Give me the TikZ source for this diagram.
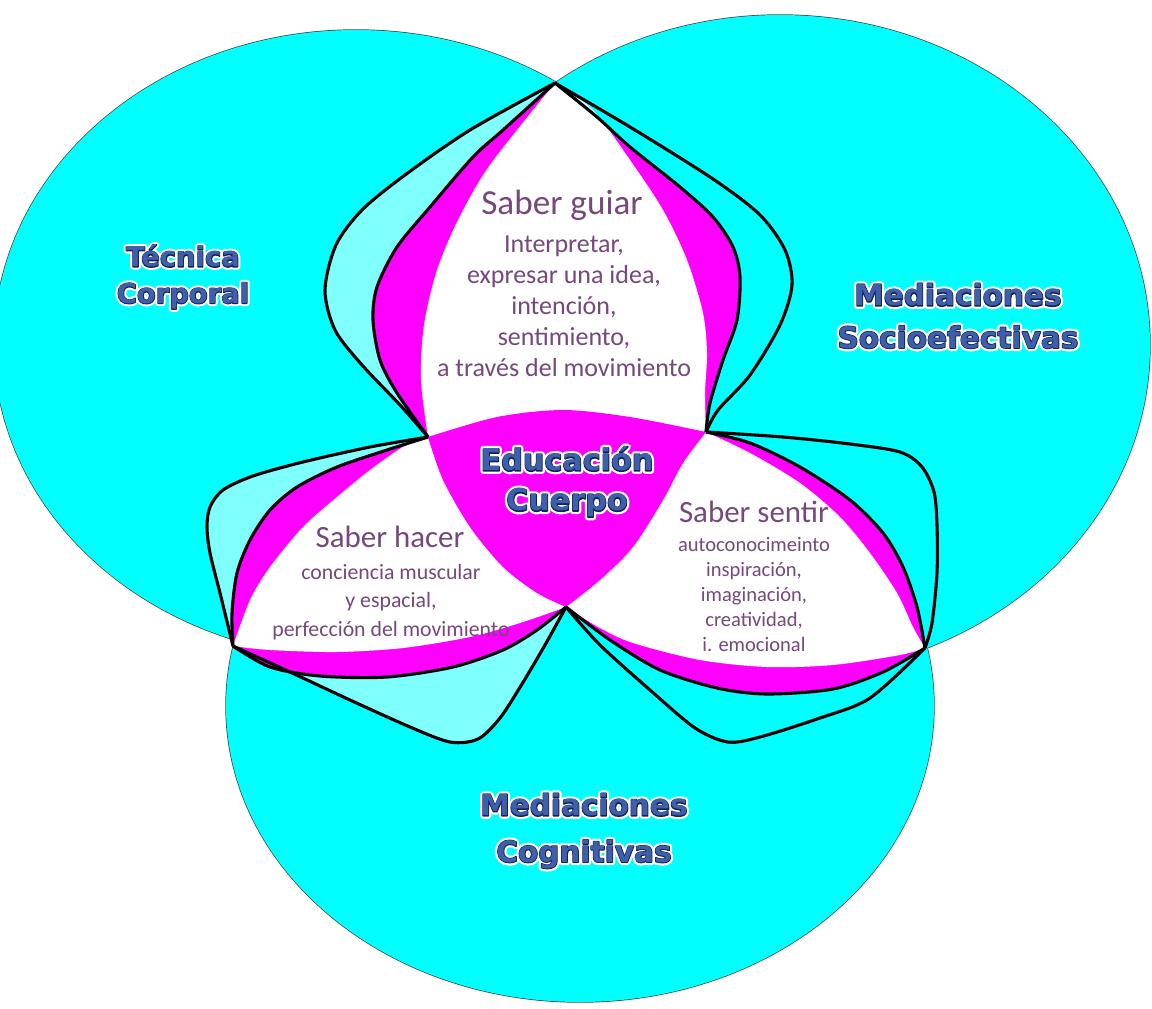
\documentclass[tikz,border=0pt]{standalone}
\usepackage{fontspec}
\newfontfamily\calfont{Carlito}
% title lettering: a wide white halo, a navy edge and the blue face
\newfontfamily\waglowfont{DejaVu Sans Bold}[FakeBold=20]
\newfontfamily\waedgefont{DejaVu Sans Bold}[FakeBold=5]
\newfontfamily\wafacefont{DejaVu Sans Bold}

\definecolor{vcyan}{RGB}{0,255,255}
\definecolor{lcyan}{RGB}{128,255,255}
\definecolor{vmag}{RGB}{255,0,255}
\definecolor{lila}{RGB}{118,72,124}
\definecolor{wablue}{RGB}{62,96,170}
\definecolor{wanavy}{RGB}{20,34,88}

% petal outlines (outer rim and magenta rim of each side)
\newcommand\outTL{plot[smooth] coordinates {(T) (470,130) (405,175) (362,210) (336,245) (325,290) (335,330) (362,365) (400,405) (A)}}
\newcommand\magTL{plot[smooth] coordinates {(T) (503,130) (473,157) (430,207) (397,247) (377,287) (373,320) (380,360) (397,393) (A)}}
\newcommand\outTR{plot[smooth] coordinates {(T) (630,127) (713,179) (760,215) (785,250) (792,285) (780,325) (750,375) (718,410) (B)}}
\newcommand\magTR{plot[smooth] coordinates {(T) (597,117) (630,147) (680,187) (713,217) (733,247) (740,277) (737,320) (723,360) (710,403) (B)}}
\newcommand\outLU{plot[smooth] coordinates {(L) (220,593) (210,553) (207,527) (210,507) (223,490) (253,476) (303,462) (370,447) (A)}}
\newcommand\magLU{plot[smooth] coordinates {(L) (232,613) (237,573) (250,540) (270,510) (297,487) (337,467) (387,450) (A)}}
\newcommand\outLD{plot[smooth] coordinates {(L) (290,672) (350,700) (410,727) (450,742) (478,739) (500,718) (522,684) (545,645) (C)}}
\newcommand\magLD{plot[smooth] coordinates {(L) (270,667) (320,676) (387,677) (453,667) (503,650) (537,630) (C)}}
\newcommand\outRU{plot[smooth] coordinates {(B) (783,437) (850,444) (900,452) (922,467) (934,492) (937,525) (937,573) (932,623) (R)}}
\newcommand\magRU{plot[smooth] coordinates {(B) (750,443) (800,467) (850,500) (883,533) (903,567) (917,607) (R)}}
\newcommand\outRD{plot[smooth] coordinates {(C) (600,645) (650,690) (695,728) (728,742) (760,737) (820,718) (870,698) (R)}}
\newcommand\magRD{plot[smooth] coordinates {(C) (610,640) (660,670) (717,688) (767,694) (833,689) (883,672) (R)}}

\begin{document}
\begin{tikzpicture}[x=0.025cm, y=-0.025cm,
  ring/.style={draw=black!75, line width=1pt},
  rim/.style={draw=black, line width=2.2pt, line join=round},
  saber/.style={text=lila, inner sep=0pt, anchor=base, font=\calfont\fontsize{#1}{#1}\selectfont},
  lista/.style 2 args={text=lila, inner sep=0pt, anchor=north, align=center, font=\calfont\fontsize{#1}{#2}\selectfont},
  wa/.style={inner sep=0pt, align=center, line join=round}]
\useasboundingbox (0,0) rectangle (1152,1008);

% tips where the petals meet
\coordinate (T) at (555,83);
\coordinate (L) at (233,646);
\coordinate (R) at (925,648);
\coordinate (A) at (428,437);
\coordinate (B) at (706,432);
\coordinate (C) at (566,607);

% the three sets
\draw[ring] (356,344) ellipse [x radius=362, y radius=314];
\draw[ring] (780,345) ellipse [x radius=370, y radius=330];
\draw[ring] (580,706) ellipse [x radius=354, y radius=296];
\fill[vcyan] (356,344) ellipse [x radius=362, y radius=314];
\fill[vcyan] (780,345) ellipse [x radius=370, y radius=330];
\fill[vcyan] (580,706) ellipse [x radius=354, y radius=296];

% pale bands and magenta crescents
\fill[lcyan] \outTL -- cycle;
\fill[lcyan] \outLU -- cycle;
\fill[lcyan] \outLD -- cycle;
\fill[vmag] \magTL -- cycle;
\fill[vmag] \magTR -- cycle;
\fill[vmag] \magLU -- cycle;
\fill[vmag] \magLD -- cycle;
\fill[vmag] \magRU -- cycle;
\fill[vmag] \magRD -- cycle;

% white overlaps
\fill[white] plot[smooth] coordinates {(T) (517,130) (485,172) (458,220) (437,270) (424,325) (421,380) (A)}
  -- plot[smooth] coordinates {(B) (705,393) (707,353) (703,313) (687,260) (663,210) (630,160) (593,110) (T)} -- cycle;
\fill[white] plot[smooth] coordinates {(L) (250,600) (270,567) (303,527) (337,497) (370,470) (403,447) (A)}
  -- plot[smooth] coordinates {(C) (520,623) (470,637) (403,648) (337,652) (270,650) (L)} -- cycle;
\fill[white] plot[smooth] coordinates {(B) (750,453) (800,483) (840,517) (870,553) (897,593) (913,627) (R)}
  -- plot[smooth] coordinates {(R) (900,655) (833,665) (767,667) (700,660) (633,643) (600,628) (C)} -- cycle;

% middle
\fill[vmag] plot[smooth] coordinates {(A) (497,417) (563,410) (630,417) (B)}
  -- plot[smooth] coordinates {(B) (683,463) (663,500) (633,547) (600,580) (C)}
  -- plot[smooth] coordinates {(C) (537,593) (503,567) (470,527) (443,480) (A)} -- cycle;

% black rims
\draw[rim] \outTL;
\draw[rim] \magTL;
\draw[rim] \outTR;
\draw[rim] \magTR;
\draw[rim] \outLU;
\draw[rim] \magLU;
\draw[rim] \outLD;
\draw[rim] \magLD;
\draw[rim] \outRU;
\draw[rim] \magRU;
\draw[rim] \outRD;
\draw[rim] \magRD;

% texts
\node[saber=25] (guiar) at (562,214) {Saber guiar};
\node[lista={18.5}{22}] (guiarTxt) at (564,236) {Interpretar,\\expresar una idea,\\intención,\\sentimiento,\\a través del movimiento};
\node[saber=22] (hacer) at (390,547) {Saber hacer};
\node[lista={15.5}{20.3}] (hacerTxt) at (391,564) {conciencia muscular\\y espacial,\\perfección del movimiento};
\node[saber=22] (sentir) at (754,522) {Saber sentir};
\node[lista={14.6}{17.8}] (sentirTxt) at (754,537) {autoconocimeinto\\inspiración,\\imaginación,\\creatividad,\\i. emocional};

\foreach \f/\c in {\waglowfont/white, \waedgefont/wanavy, \wafacefont/wablue}{
  \node[wa, text=\c, font=\f\fontsize{19.5}{26}\selectfont] (tec-\c) at (183,277) {Técnica\\Corporal};
  \node[wa, text=\c, font=\f\fontsize{21}{30}\selectfont] (socio-\c) at (958,316) {Mediaciones\\Socioefectivas};
  \node[wa, text=\c, font=\f\fontsize{21}{33}\selectfont] (cogn-\c) at (584,831) {Mediaciones\\Cognitivas};
  \node[wa, text=\c, font=\f\fontsize{21.5}{28.5}\selectfont] (educ-\c) at (567,482) {Educación\\Cuerpo};
}
\end{tikzpicture}
\end{document}
